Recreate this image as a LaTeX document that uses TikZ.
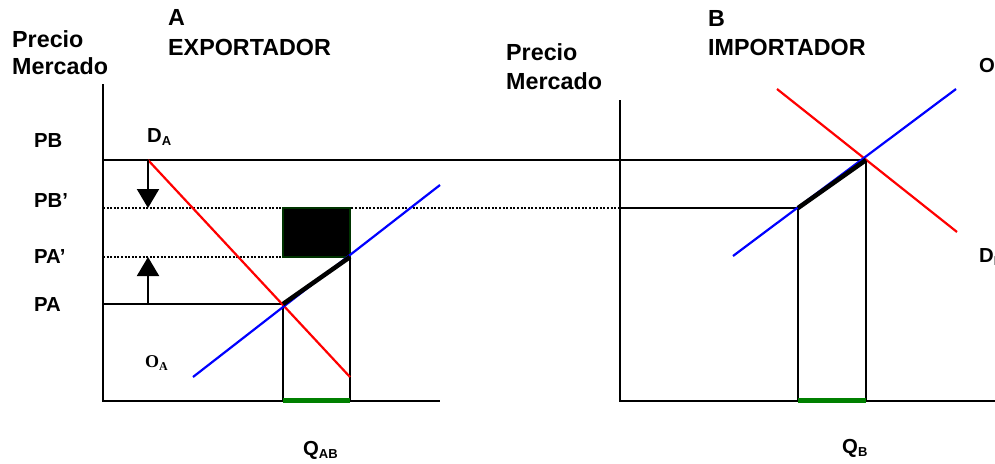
\documentclass[tikz,border=0pt]{standalone}
\usepackage{fontspec}
\setmainfont{Liberation Sans}
\newfontfamily\tnr{Liberation Serif}
\usetikzlibrary{arrows.meta}
\newcommand{\sbx}[1]{\raisebox{-3.5pt}{\fontsize{13}{13}\selectfont #1}}
\tikzset{
  big/.style={anchor=base west, inner sep=0pt, font=\fontsize{23.3}{26}\selectfont\bfseries},
  lab/.style={anchor=base west, inner sep=0pt, font=\fontsize{20.3}{22}\selectfont\bfseries},
  ax/.style={line width=2.4pt, black},
  ln/.style={line width=2pt, black},
  dot/.style={line width=2.2pt, black, dash pattern=on 2pt off 1.6pt},
  dem/.style={line width=2.2pt, red},
  sup/.style={line width=2.2pt, blue},
  thk/.style={line width=4.5pt, black},
  grn/.style={line width=5pt, green!50!black},
  arr/.style={line width=2pt, -{Triangle[length=19pt,width=22pt]}},
}
\begin{document}
\begin{tikzpicture}[x=1pt,y=-1pt]
\useasboundingbox (0,0) rectangle (995,463);
\clip (0,0) rectangle (995,463);
% ---------- left panel (A) ----------
\coordinate (aO) at (103,401);
\coordinate (aT) at (103,84);
\coordinate (aX) at (440,401);
\draw[ax] (aT) -- (aO) -- (aX);
% PB line across to B
\coordinate (pbL) at (103,160);
\coordinate (pbR) at (866,160);
\draw[ln] (pbL) -- (pbR);
% PB' dotted
\coordinate (pbpL) at (103,208);
\coordinate (pbpM) at (618,208);
\draw[dot] (pbpL) -- (pbpM);
% PA' dotted
\coordinate (papL) at (103,257);
\coordinate (papM) at (283,257);
\draw[dot] (papL) -- (papM);
% PA line
\coordinate (paL) at (103,304);
\coordinate (eA) at (283,304);
\draw[ln] (paL) -- (eA);
% box
\coordinate (bx1) at (283,208);
\coordinate (bx2) at (350,257);
\draw[line width=2pt, draw=green!20!black, fill=black] (bx1) rectangle (bx2);
% verticals
\coordinate (vA1) at (283,401);
\coordinate (vA2) at (350,401);
\draw[ln] (eA) -- (vA1);
\draw[ln] (bx2) -- (vA2);
% demand & supply A
\coordinate (dA1) at (148,160);
\coordinate (dA2) at (350,377);
\draw[dem] (dA1) -- (dA2);
\coordinate (sA1) at (193,377);
\coordinate (sA2) at (440,185);
\draw[sup] (sA1) -- (sA2);
\draw[thk] (eA) -- (bx2);
\draw[grn] (283,400) -- (350,400);
% arrows
\coordinate (ar1s) at (148,160);
\coordinate (ar1e) at (148,208);
\draw[arr] (ar1s) -- (ar1e);
\coordinate (ar2s) at (148,304);
\coordinate (ar2e) at (148,257);
\draw[arr] (ar2s) -- (ar2e);
% ---------- right panel (B) ----------
\coordinate (bO) at (620,401);
\coordinate (bT) at (620,100);
\coordinate (bX) at (995,401);
\draw[ax] (bT) -- (bO) -- (bX);
\coordinate (pbpB) at (620,208);
\coordinate (eB1) at (798,208);
\draw[ln] (pbpB) -- (eB1);
\coordinate (vB1) at (798,401);
\coordinate (vB2) at (866,401);
\draw[ln] (eB1) -- (vB1);
\draw[ln] (pbR) -- (vB2);
\coordinate (dB1) at (777,89);
\coordinate (dB2) at (957,232);
\draw[dem] (dB1) -- (dB2);
\coordinate (sB1) at (733,256);
\coordinate (sB2) at (956,89);
\draw[sup] (sB1) -- (sB2);
\draw[thk] (eB1) -- (pbR);
\draw[grn] (798,400) -- (866,400);
% ---------- labels ----------
\node[big] (t1) at (12,47) {Precio};
\node[big] (t2) at (12,74) {Mercado};
\node[big] (t3) at (168,25) {A};
\node[big] (t4) at (168,55) {EXPORTADOR};
\node[big] (t5) at (506,60) {Precio};
\node[big] (t6) at (506,89) {Mercado};
\node[big] (t7) at (708,26) {B};
\node[big] (t8) at (708,55) {IMPORTADOR};
\node[lab] (l1) at (34,147) {PB};
\node[lab] (l2) at (34,207) {PB’};
\node[lab] (l3) at (34,263) {PA’};
\node[lab] (l4) at (34,311) {PA};
\node[lab] (l5) at (147,142) {D\sbx{A}};
\node[anchor=base west, inner sep=0pt, font=\fontsize{18}{20}\selectfont\tnr\bfseries] (l6) at (145,367) {O\raisebox{-3.5pt}{\fontsize{12}{12}\selectfont A}};
\node[lab] (l7) at (303,455) {Q\sbx{AB}};
\node[lab] (l8) at (842,453) {Q\sbx{B}};
\node[lab] (l9) at (979,72) {O\sbx{B}};
\node[lab] (l10) at (979,262) {D\sbx{B}};
\end{tikzpicture}
\end{document}
